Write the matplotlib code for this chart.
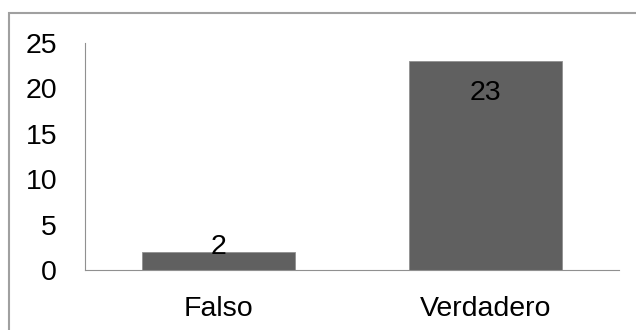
import matplotlib
matplotlib.use('Agg')
import matplotlib.pyplot as plt
from matplotlib.patches import Rectangle

categorias = ['Falso', 'Verdadero']
valores = [2, 23]
yticks = [0, 5, 10, 15, 20, 25]

plt.rcParams['font.family'] = ['Liberation Sans', 'DejaVu Sans']
fs = 20.5

W, H = 636, 330
fig = plt.figure(figsize=(W / 100, H / 100), dpi=100)
ax = fig.add_axes([85 / W, (H - 270) / H, (619 - 85) / W, (270 - 43) / H])

x = range(len(categorias))
bars = ax.bar(x, valores, width=0.573, color='#606060', edgecolor='#909090', linewidth=0.6)

ax.set_xlim(-0.5, len(categorias) - 0.5)
ax.set_ylim(0, 25)
ax.set_yticks(yticks)
ax.set_yticklabels([str(t) for t in yticks], fontsize=fs)
ax.set_xticks(list(x))
ax.set_xticklabels(categorias, fontsize=fs)
ax.tick_params(axis='y', length=0, pad=20)
ax.tick_params(axis='x', length=0, pad=19)

for s in ['top', 'right']:
    ax.spines[s].set_visible(False)
ax.spines['left'].set_color('#909090')
ax.spines['bottom'].set_color('#909090')

# etiquetas de valor: dentro del extremo si cabe, si no encima
for b, v in zip(bars, valores):
    cx = b.get_x() + b.get_width() / 2
    if v > 5:
        ax.annotate(str(v), (cx, v), xytext=(0, -32), textcoords='offset pixels',
                    ha='center', va='center', fontsize=fs, color='black')
    else:
        ax.annotate(str(v), (cx, v), xytext=(0, 5), textcoords='offset pixels',
                    ha='center', va='center', fontsize=fs, color='black')

# marco del gráfico
fig.patches.append(Rectangle((9 / W, -0.1), 1.1, (H - 13) / H + 0.1,
                             transform=fig.transFigure, fill=False,
                             edgecolor='#a0a0a0', linewidth=1.5))

fig.savefig('out.png', dpi=100)
